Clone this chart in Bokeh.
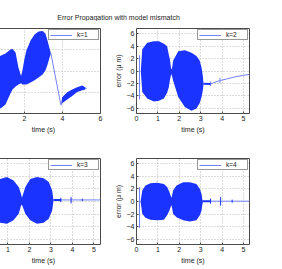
from bokeh.plotting import figure
from bokeh.layouts import column, row
from bokeh.models import Range1d, Label, Legend, LegendItem, FixedTicker, Grid
from bokeh.embed import file_html
from bokeh.resources import INLINE

TITLE = "Error Propagation with model mismatch"
XLABEL = "time (s)"
YLABEL = "error (\u03bc m)"

# ---------------- data ----------------
# k=1 : dense oscillation envelope (upper / lower)
k1_t  = [0.10, 0.30, 0.55, 0.74, 1.00, 1.26, 1.37, 1.53, 1.68, 1.82, 1.89, 2.00, 2.10, 2.32, 2.53, 2.74, 2.95, 3.10, 3.21, 3.32, 3.39]
k1_up = [0.0, 2.5, 3.2, 3.6, 4.1, 5.06, 5.2, 4.35, 0.8, -1.2, 0.1, 2.9, 4.8, 7.2, 8.6, 9.3, 9.4, 8.8, 7.2, 5.3, 4.1]
k1_lo = [0.0, -5.0, -7.8, -8.8, -7.9, -5.3, -4.35, -3.65, -3.2, -2.9, -3.2, -3.2, -3.2, -2.7, -2.2, -1.5, -0.8, 0.1, 1.5, 3.2, 4.1]
k1_drop_t = [3.39, 3.92]
k1_drop_v = [4.1, -8.1]
k1_b2_t  = [3.92, 3.98, 4.25, 4.51, 4.77, 5.04, 5.21]
k1_b2_up = [-8.1, -6.2, -5.0, -4.35, -3.8, -3.4, -3.9]
k1_b2_lo = [-8.1, -7.6, -6.7, -5.9, -4.95, -4.5, -4.35]
k1_tail_t = [5.21, 5.27]
k1_tail_v = [-4.1, -4.1]

# k=2
k2_t  = [0.20, 0.27, 0.50, 0.81, 1.05, 1.28, 1.43, 1.51, 1.56, 1.62, 1.66, 1.71, 1.95, 2.26, 2.57, 2.80, 2.95, 3.04, 3.10, 3.13]
k2_up = [0.0, 3.5, 4.55, 4.8, 4.8, 4.4, 4.0, 2.6, 1.9, 0.3, 0.4, 1.64, 3.2, 3.35, 2.96, 2.4, 1.7, 0.57, -0.8, -2.0]
k2_lo = [0.0, -3.4, -4.45, -4.9, -4.8, -4.45, -3.5, -2.6, -1.5, -0.5, -0.8, -1.55, -4.2, -5.8, -6.4, -6.05, -5.2, -4.2, -3.1, -2.2]
k2_dark_t = [3.13, 3.46]
k2_dark_v = [-2.05, -2.1]
k2_tail_t = [3.46, 3.60, 3.85, 3.95, 4.20, 4.60, 5.00, 5.28]
k2_tail_v = [-2.1, -1.9, -1.6, -1.5, -1.3, -0.95, -0.7, -0.55]
k2_spk_t  = [0.14, 3.46, 3.90]
k2_spk_hi = [2.55, -1.7, -1.1]
k2_spk_lo = [-4.6, -2.4, -1.9]

# k=3
k3_t  = [0.15, 0.25, 0.45, 0.64, 0.95, 1.26, 1.50, 1.61, 1.65, 1.81, 2.04, 2.35, 2.66, 2.90, 3.06, 3.10, 3.12]
k3_up = [0.0, 2.0, 3.3, 3.6, 3.9, 3.35, 2.3, 1.2, 0.6, 2.3, 3.6, 3.9, 3.7, 3.1, 1.75, 0.7, 0.25]
k3_lo = [0.0, -2.0, -3.2, -3.4, -3.55, -3.0, -1.95, -0.65, -0.5, -1.95, -3.0, -3.55, -3.4, -2.75, -1.45, -0.4, 0.2]
k3_dark_t = [3.12, 3.48]
k3_dark_v = [0.25, 0.25]
k3_tail_t = [3.48, 5.31]
k3_tail_v = [0.25, 0.25]
k3_spk_t  = [3.46, 3.94, 4.46]
k3_spk_hi = [0.6, 0.7, 0.45]
k3_spk_lo = [-0.1, -0.3, 0.05]

# k=4
k4_t  = [0.19, 0.27, 0.42, 0.65, 0.97, 1.28, 1.43, 1.54, 1.59, 1.64, 1.71, 1.87, 2.18, 2.49, 2.80, 2.96, 3.04, 3.07, 3.10]
k4_up = [0.0, 1.75, 2.55, 2.9, 2.97, 2.8, 2.3, 1.5, 0.95, 0.6, 1.75, 2.55, 3.07, 3.07, 2.8, 2.0, 1.2, 0.4, 0.1]
k4_lo = [0.0, -1.95, -2.6, -2.9, -3.0, -2.9, -2.2, -1.45, -0.9, -0.6, -1.95, -2.5, -3.0, -3.2, -3.0, -2.2, -1.45, -0.65, -0.1]
k4_dark_t = [3.10, 3.46]
k4_dark_v = [0.05, 0.05]
k4_tail_t = [3.46, 5.28]
k4_tail_v = [0.05, 0.05]
k4_spk_t  = [0.14, 3.46, 3.93, 4.47]
k4_spk_hi = [2.3, 0.45, 0.7, 0.3]
k4_spk_lo = [-4.2, -0.35, -0.65, -0.2]

# tick values (the left panels' t=0 tick lies outside the visible picture)
x_ticks_k1 = [2, 4, 6]
x_ticks_k3 = [1, 2, 3, 4, 5]
x_ticks = [0, 1, 2, 3, 4, 5]
y_ticks_k1 = [-10, -5, 0, 5, 10]
y_ticks = [-6, -4, -2, 0, 2, 4, 6]

# ---------------- styling ----------------
BLUE = "#1a33ff"
LIGHT = "#7282ff"
FRAME = "#4a4a4a"
TXT = "#222222"
FONT = "Liberation Sans"
FS = "7px"


def panel(w, h, xr, yr, xt, yt, mb, show_y):
    p = figure(width=w, height=h, x_range=Range1d(*xr), y_range=Range1d(*yr),
               output_backend="svg", toolbar_location=None,
               x_axis_location="below", y_axis_location=("left" if show_y else None),
               min_border_left=mb[0], min_border_right=mb[1],
               min_border_top=mb[2], min_border_bottom=mb[3],
               background_fill_color="white", border_fill_color="white")
    p.outline_line_color = FRAME
    p.outline_line_width = 1
    p.xaxis.ticker = FixedTicker(ticks=xt)
    p.xaxis.axis_label = XLABEL
    if show_y:
        p.yaxis.ticker = FixedTicker(ticks=yt)
        p.yaxis.axis_label = YLABEL
    for ax in p.axis:
        ax.axis_line_color = None
        ax.major_tick_in = 2
        ax.major_tick_out = 0
        ax.major_tick_line_color = FRAME
        ax.minor_tick_line_color = None
        ax.major_label_standoff = 2
        ax.major_label_text_font = FONT
        ax.major_label_text_font_size = FS
        ax.major_label_text_color = TXT
        ax.axis_label_text_font = FONT
        ax.axis_label_text_font_size = FS
        ax.axis_label_text_font_style = "normal"
        ax.axis_label_text_color = TXT
        ax.axis_label_standoff = 2
    for g in p.xgrid:
        g.ticker = FixedTicker(ticks=xt)
    if len(p.ygrid) == 0:
        p.add_layout(Grid(dimension=1, ticker=FixedTicker(ticks=yt)))
    for g in p.ygrid:
        g.ticker = FixedTicker(ticks=yt)
    for g in p.grid:
        g.grid_line_color = "#b8b8b8"
        g.grid_line_dash = "1 2"
        g.grid_line_width = 1
    return p


def add_legend(p, label, rend):
    leg = Legend(items=[LegendItem(label=label, renderers=[rend])], location="top_right",
                 margin=1, padding=1, spacing=0, glyph_width=22, glyph_height=6,
                 label_height=6, label_standoff=5, label_text_font=FONT,
                 label_text_font_size="6.5px", label_text_color=TXT,
                 border_line_color="#333333", border_line_width=1,
                 background_fill_color="white", background_fill_alpha=1)
    p.add_layout(leg)


# top row: page y 21..135, frame 28..114 ; bottom row: 135..269, frame 158..244
f1 = panel(120, 114, (0, 6), (-10, 10), x_ticks_k1, y_ticks_k1, (0, 6, 7, 21), False)
f1.varea(x=k1_t, y1=k1_lo, y2=k1_up, fill_color=BLUE)
r1 = f1.line(k1_drop_t, k1_drop_v, line_color=LIGHT, line_width=1)
f1.varea(x=k1_b2_t, y1=k1_b2_lo, y2=k1_b2_up, fill_color=BLUE)
f1.line(k1_tail_t, k1_tail_v, line_color=LIGHT, line_width=1)
add_legend(f1, "k=1", r1)

f2 = panel(176, 114, (0, 5.28), (-6.85, 6.85), x_ticks, y_ticks, (30, 33, 7, 21), True)
f2.segment(x0=k2_spk_t, y0=k2_spk_lo, x1=k2_spk_t, y1=k2_spk_hi, line_color=LIGHT, line_width=1)
f2.varea(x=k2_t, y1=k2_lo, y2=k2_up, fill_color=BLUE)
f2.line(k2_dark_t, k2_dark_v, line_color=BLUE, line_width=2)
r2 = f2.line(k2_tail_t, k2_tail_v, line_color=LIGHT, line_width=1)
add_legend(f2, "k=2", r2)

f3 = panel(120, 134, (0, 5.31), (-6.85, 6.85), x_ticks_k3, y_ticks, (0, 6, 23, 25), False)
f3.varea(x=k3_t, y1=k3_lo, y2=k3_up, fill_color=BLUE)
f3.line(k3_dark_t, k3_dark_v, line_color=BLUE, line_width=2)
r3 = f3.line(k3_tail_t, k3_tail_v, line_color=LIGHT, line_width=1)
f3.segment(x0=k3_spk_t, y0=k3_spk_lo, x1=k3_spk_t, y1=k3_spk_hi, line_color=BLUE, line_width=1)
add_legend(f3, "k=3", r3)

f4 = panel(176, 134, (0, 5.28), (-6.85, 6.85), x_ticks, y_ticks, (30, 33, 23, 25), True)
f4.segment(x0=k4_spk_t[:1], y0=k4_spk_lo[:1], x1=k4_spk_t[:1], y1=k4_spk_hi[:1], line_color=LIGHT, line_width=1)
f4.varea(x=k4_t, y1=k4_lo, y2=k4_up, fill_color=BLUE)
f4.line(k4_dark_t, k4_dark_v, line_color=BLUE, line_width=2)
r4 = f4.line(k4_tail_t, k4_tail_v, line_color=LIGHT, line_width=1)
f4.segment(x0=k4_spk_t[1:], y0=k4_spk_lo[1:], x1=k4_spk_t[1:], y1=k4_spk_hi[1:], line_color=BLUE, line_width=1)
add_legend(f4, "k=4", r4)

# title strip
tf = figure(width=296, height=21, x_range=Range1d(-14, 282), y_range=Range1d(21, 0),
            output_backend="svg", toolbar_location=None,
            x_axis_location=None, y_axis_location=None, min_border=0)
tf.outline_line_color = None
tf.grid.visible = False
tf.add_layout(Label(x=118, y=17, text=TITLE, text_align="center", text_baseline="alphabetic",
                    text_font=FONT, text_font_size=FS, text_color=TXT))

root = column(tf, row(f1, f2), row(f3, f4),
              styles={"position": "absolute", "left": "-14px", "top": "0px"})

open("out.html", "w").write(file_html(root, INLINE))
